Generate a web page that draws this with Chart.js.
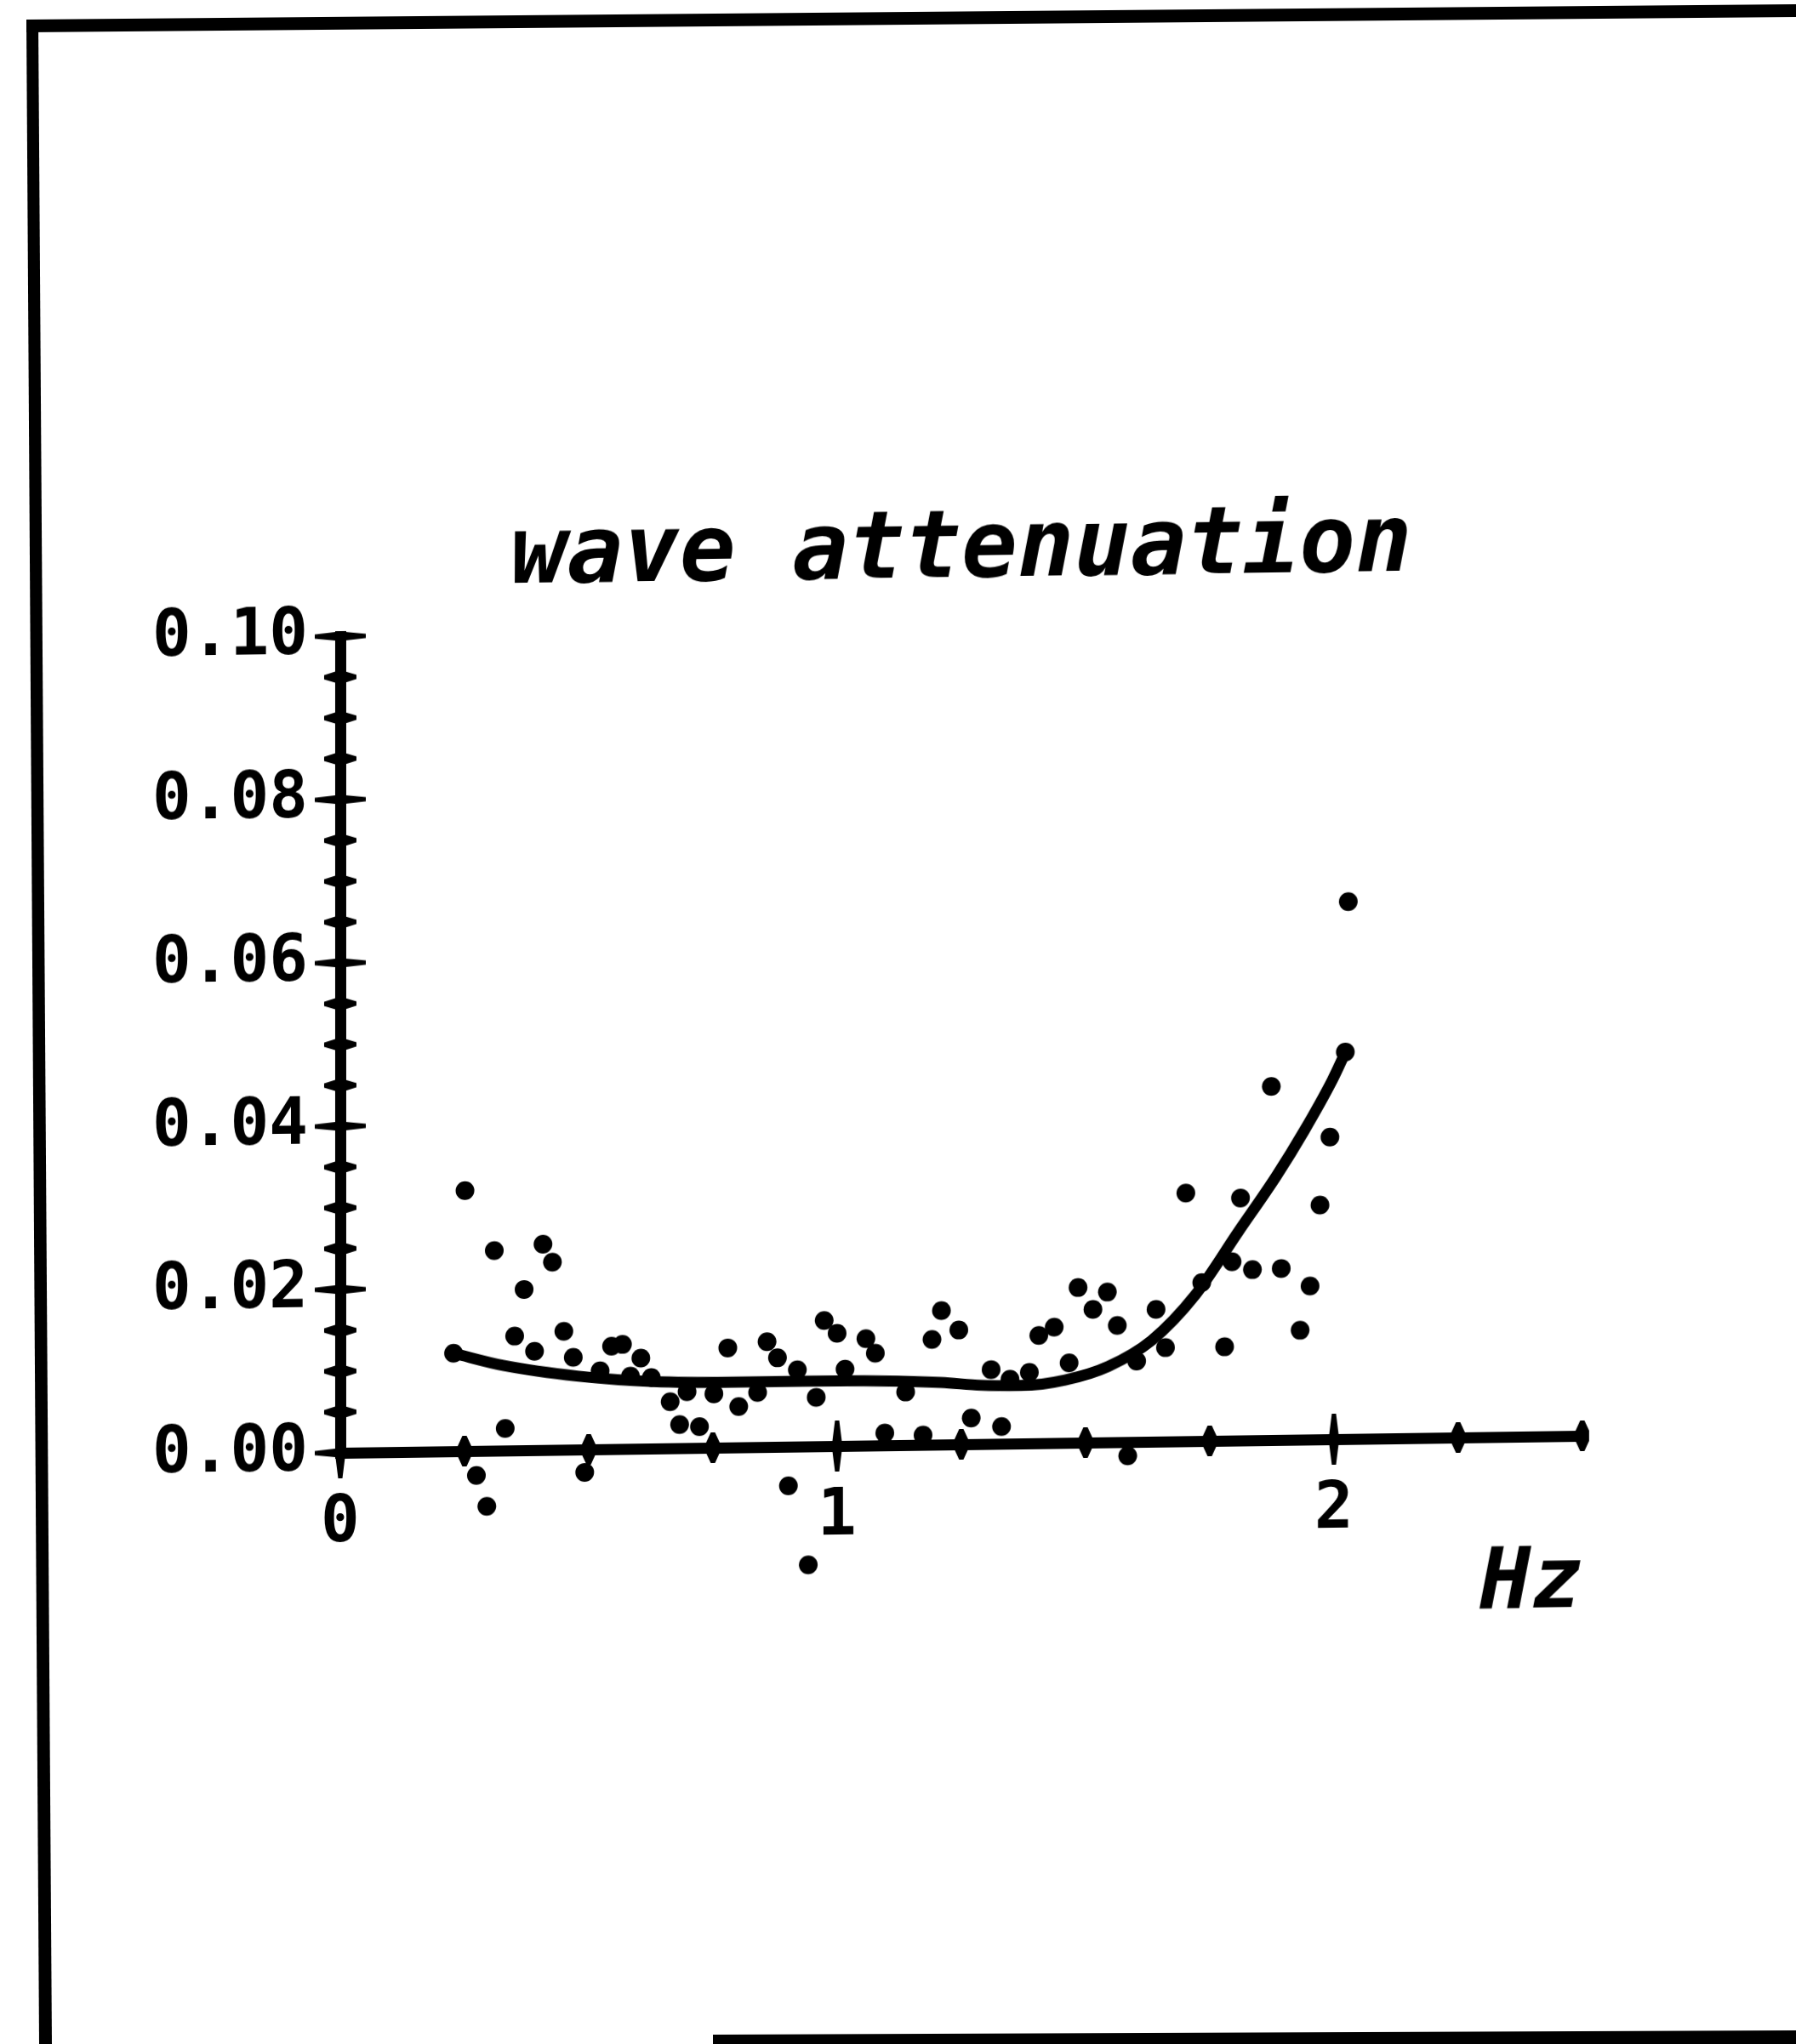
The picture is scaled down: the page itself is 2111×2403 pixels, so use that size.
<!DOCTYPE html>
<html><head><meta charset="utf-8">
<script src="https://cdn.jsdelivr.net/npm/chart.js@4.4.1/dist/chart.umd.min.js"></script>
<style>
html,body{margin:0;padding:0;background:#fff;}
#wrap{position:relative;width:2111px;height:2403px;overflow:hidden;background:#fff;}
#frame,#c{position:absolute;left:0;top:0;}
#c{transform-origin:400px 1708px;transform:skewY(-0.785deg);}
</style></head><body>
<div id="wrap"><canvas id="frame" width="2111" height="2403"></canvas><canvas id="c" width="2111" height="2403"></canvas></div>
<script>
const chartTitle = 'wave attenuation';
const xAxisTitle = 'Hz';
const xMin = 0, xMax = 2.5, xStep = 0.25;
const yMin = 0, yMax = 0.10, yStep = 0.005;
const xLabelValues = [0, 1, 2];
const yLabelValues = [0.00, 0.02, 0.04, 0.06, 0.08, 0.10];

// fitted curve
const curveX = [0.228, 0.33, 0.477, 0.63, 0.782, 0.935, 1.088, 1.21, 1.29, 1.37, 1.459, 1.546, 1.633, 1.721, 1.808, 1.884, 1.940, 1.997, 2.022];
const curveY = [0.0120, 0.0104, 0.0090, 0.0082, 0.0080, 0.0080, 0.0079, 0.0076, 0.0072, 0.0071, 0.0077, 0.0093, 0.0124, 0.0179, 0.0256, 0.0323, 0.0378, 0.0440, 0.0472];

// measured points
const dotX = [0.228, 0.251, 0.310, 0.408, 0.427, 0.370, 0.351, 0.391, 0.450, 0.469,
  0.546, 0.568, 0.605, 0.523, 0.584, 0.626, 0.664, 0.698, 0.752, 0.802,
  0.840, 0.683, 0.723, 0.780, 0.859, 0.880, 0.920, 0.958, 0.974, 1.000,
  1.016, 1.058, 1.077, 1.138, 1.210, 1.191, 1.245, 1.310, 1.348, 1.270,
  1.331, 1.096, 1.173, 0.332, 0.274, 0.295, 0.492, 0.902, 0.942, 1.387,
  1.406, 1.437, 1.467, 1.485, 1.515, 1.544, 1.564, 1.585, 1.603, 1.642,
  1.661, 1.702, 1.734, 1.780, 1.795, 1.812, 1.836, 1.874, 1.894, 1.932,
  1.952, 1.972, 1.992, 2.023, 2.029];
const dotY = [0.0120, 0.0319, 0.0245, 0.0252, 0.0230, 0.0197, 0.0140, 0.0121, 0.0145, 0.0113,
  0.0126, 0.0128, 0.0111, 0.0096, 0.0089, 0.0087, 0.0057, 0.0069, 0.0066, 0.0050,
  0.0067, 0.0029, 0.0026, 0.0122, 0.0129, 0.0109, 0.0094, 0.0060, 0.0154, 0.0138,
  0.0094, 0.0131, 0.0113, 0.0065, 0.0164, 0.0129, 0.0140, 0.0091, 0.0079, 0.0032,
  0.0021, 0.0015, 0.0012, 0.0027, -0.0030, -0.0068, -0.0028, -0.0048, -0.0145, 0.0087,
  0.0132, 0.0142, 0.0098, 0.0190, 0.0163, 0.0184, 0.0143, -0.0017, 0.0099, 0.0162,
  0.0115, 0.0304, 0.0194, 0.0115, 0.0219, 0.0297, 0.0209, 0.0433, 0.0210, 0.0134,
  0.0188, 0.0287, 0.0370, 0.0474, 0.0658];

// ---- frame (page border) ----
(function(){
  const f = document.getElementById('frame').getContext('2d');
  f.fillStyle = '#000';
  function poly(pts){ f.beginPath(); f.moveTo(pts[0][0], pts[0][1]); for (let i = 1; i < pts.length; i++) f.lineTo(pts[i][0], pts[i][1]); f.closePath(); f.fill(); }
  poly([[31,23],[2111,5],[2111,20],[31,38]]);
  poly([[31,23],[45,23],[61,2403],[46,2403]]);
  poly([[838,2392],[2111,2387],[2111,2403],[838,2403]]);
})();

function near(list, v){ return list.some(a => Math.abs(a - v) < 1e-9); }
function stepValues(min, max, step){ const out = []; const n = Math.round((max - min) / step); for (let i = 0; i <= n; i++) out.push(+(min + i * step).toFixed(6)); return out; }
const xTickValues = stepValues(xMin, xMax, xStep);
const yTickValues = stepValues(yMin, yMax, yStep);

function lens(ctx, cx, cy, half, thick, horizontal){
  const t = thick, e = 2.5;
  const pts = horizontal
    ? [[cx-half,cy-e],[cx-6,cy-t],[cx+6,cy-t],[cx+half,cy-e],[cx+half,cy+e],[cx+6,cy+t],[cx-6,cy+t],[cx-half,cy+e]]
    : [[cx-e,cy-half],[cx-t,cy-6],[cx-t,cy+6],[cx-e,cy+half],[cx+e,cy+half],[cx+t,cy+6],[cx+t,cy-6],[cx+e,cy-half]];
  ctx.beginPath(); ctx.moveTo(pts[0][0], pts[0][1]);
  for (let i = 1; i < pts.length; i++) ctx.lineTo(pts[i][0], pts[i][1]);
  ctx.closePath(); ctx.fill();
}

const crossTicks = {
  id: 'crossTicks',
  afterDraw(chart){
    const ctx = chart.ctx, xs = chart.scales.x, ys = chart.scales.y;
    const ax = xs.left, ay = ys.bottom;
    ctx.save(); ctx.fillStyle = '#000';
    ys.ticks.forEach(t => {
      const y = ys.getPixelForValue(t.value);
      const major = near(yLabelValues, t.value);
      lens(ctx, ax, y, major ? 30 : 19, major ? 5 : 6.5, true);
    });
    xs.ticks.forEach(t => {
      const x = xs.getPixelForValue(t.value);
      const major = near(xLabelValues, t.value);
      lens(ctx, x, ay, major ? 30 : 18, major ? 5.5 : 8, false);
    });
    ctx.restore();
  }
};

// let points that fall below the axis (negative values) be drawn too
const openArea = {
  id: 'openArea',
  beforeDatasetsDraw(chart){
    const a = chart.chartArea;
    chart.$savedArea = a;
    chart.chartArea = {left: a.left - 400, top: a.top - 400, right: a.right + 400, bottom: a.bottom + 400, width: a.width + 800, height: a.height + 800};
  },
  afterDatasetsDraw(chart){
    if (chart.$savedArea) { chart.chartArea = chart.$savedArea; chart.$savedArea = null; }
  }
};

const monoFam = '"DejaVu Sans Mono", monospace';

new Chart(document.getElementById('c'), {
  type: 'scatter',
  data: {
    datasets: [
      {
        type: 'line',
        data: curveX.map((x, i) => ({x: x, y: curveY[i]})),
        borderColor: '#000', borderWidth: 13, pointRadius: 0,
        cubicInterpolationMode: 'monotone', borderCapStyle: 'round', borderJoinStyle: 'round',
        fill: false, clip: false
      },
      {
        data: dotX.map((x, i) => ({x: x, y: dotY[i]})),
        backgroundColor: '#000', borderWidth: 0, pointRadius: 11, clip: false
      }
    ]
  },
  options: {
    responsive: false, animation: false, devicePixelRatio: 1, events: [],
    layout: {padding: {top: 0, left: 0, right: 251, bottom: 0}},
    plugins: {
      legend: {display: false}, tooltip: {enabled: false},
      title: {
        display: true, text: chartTitle, fullSize: false, color: '#000',
        font: {family: monoFam, size: 110, weight: 'bold', style: 'italic', lineHeight: 1.2},
        padding: {top: 593, bottom: 23}
      }
    },
    scales: {
      x: {
        type: 'linear', min: xMin, max: xMax,
        afterBuildTicks: s => { s.ticks = xTickValues.map(v => ({value: v})); },
        afterFit: s => { s.height = 695; },
        grid: {display: true, drawOnChartArea: false, drawTicks: false, color: 'rgba(0,0,0,0)'},
        border: {display: true, color: '#000', width: 13},
        ticks: {
          autoSkip: false, maxRotation: 0, minRotation: 0, padding: 39, color: '#000',
          font: {family: monoFam, size: 76, weight: 'bold'},
          callback: v => near(xLabelValues, v) ? String(Math.round(v)) : ''
        },
        title: {
          display: true, text: xAxisTitle, align: 'end', color: '#000',
          font: {family: monoFam, size: 100, weight: 'bold', style: 'italic', lineHeight: 1.2},
          padding: {top: 0, bottom: 460}
        }
      },
      y: {
        type: 'linear', min: yMin, max: yMax,
        afterBuildTicks: s => { s.ticks = yTickValues.map(v => ({value: v})); },
        afterFit: s => { s.width = 400; },
        grid: {display: true, drawOnChartArea: false, drawTicks: false, color: 'rgba(0,0,0,0)'},
        border: {display: true, color: '#000', width: 13},
        ticks: {
          autoSkip: false, padding: 38, color: '#000',
          font: {family: monoFam, size: 76, weight: 'bold'},
          callback: v => near(yLabelValues, v) ? v.toFixed(2) : ''
        }
      }
    }
  },
  plugins: [crossTicks, openArea]
});
</script>
</body></html>
